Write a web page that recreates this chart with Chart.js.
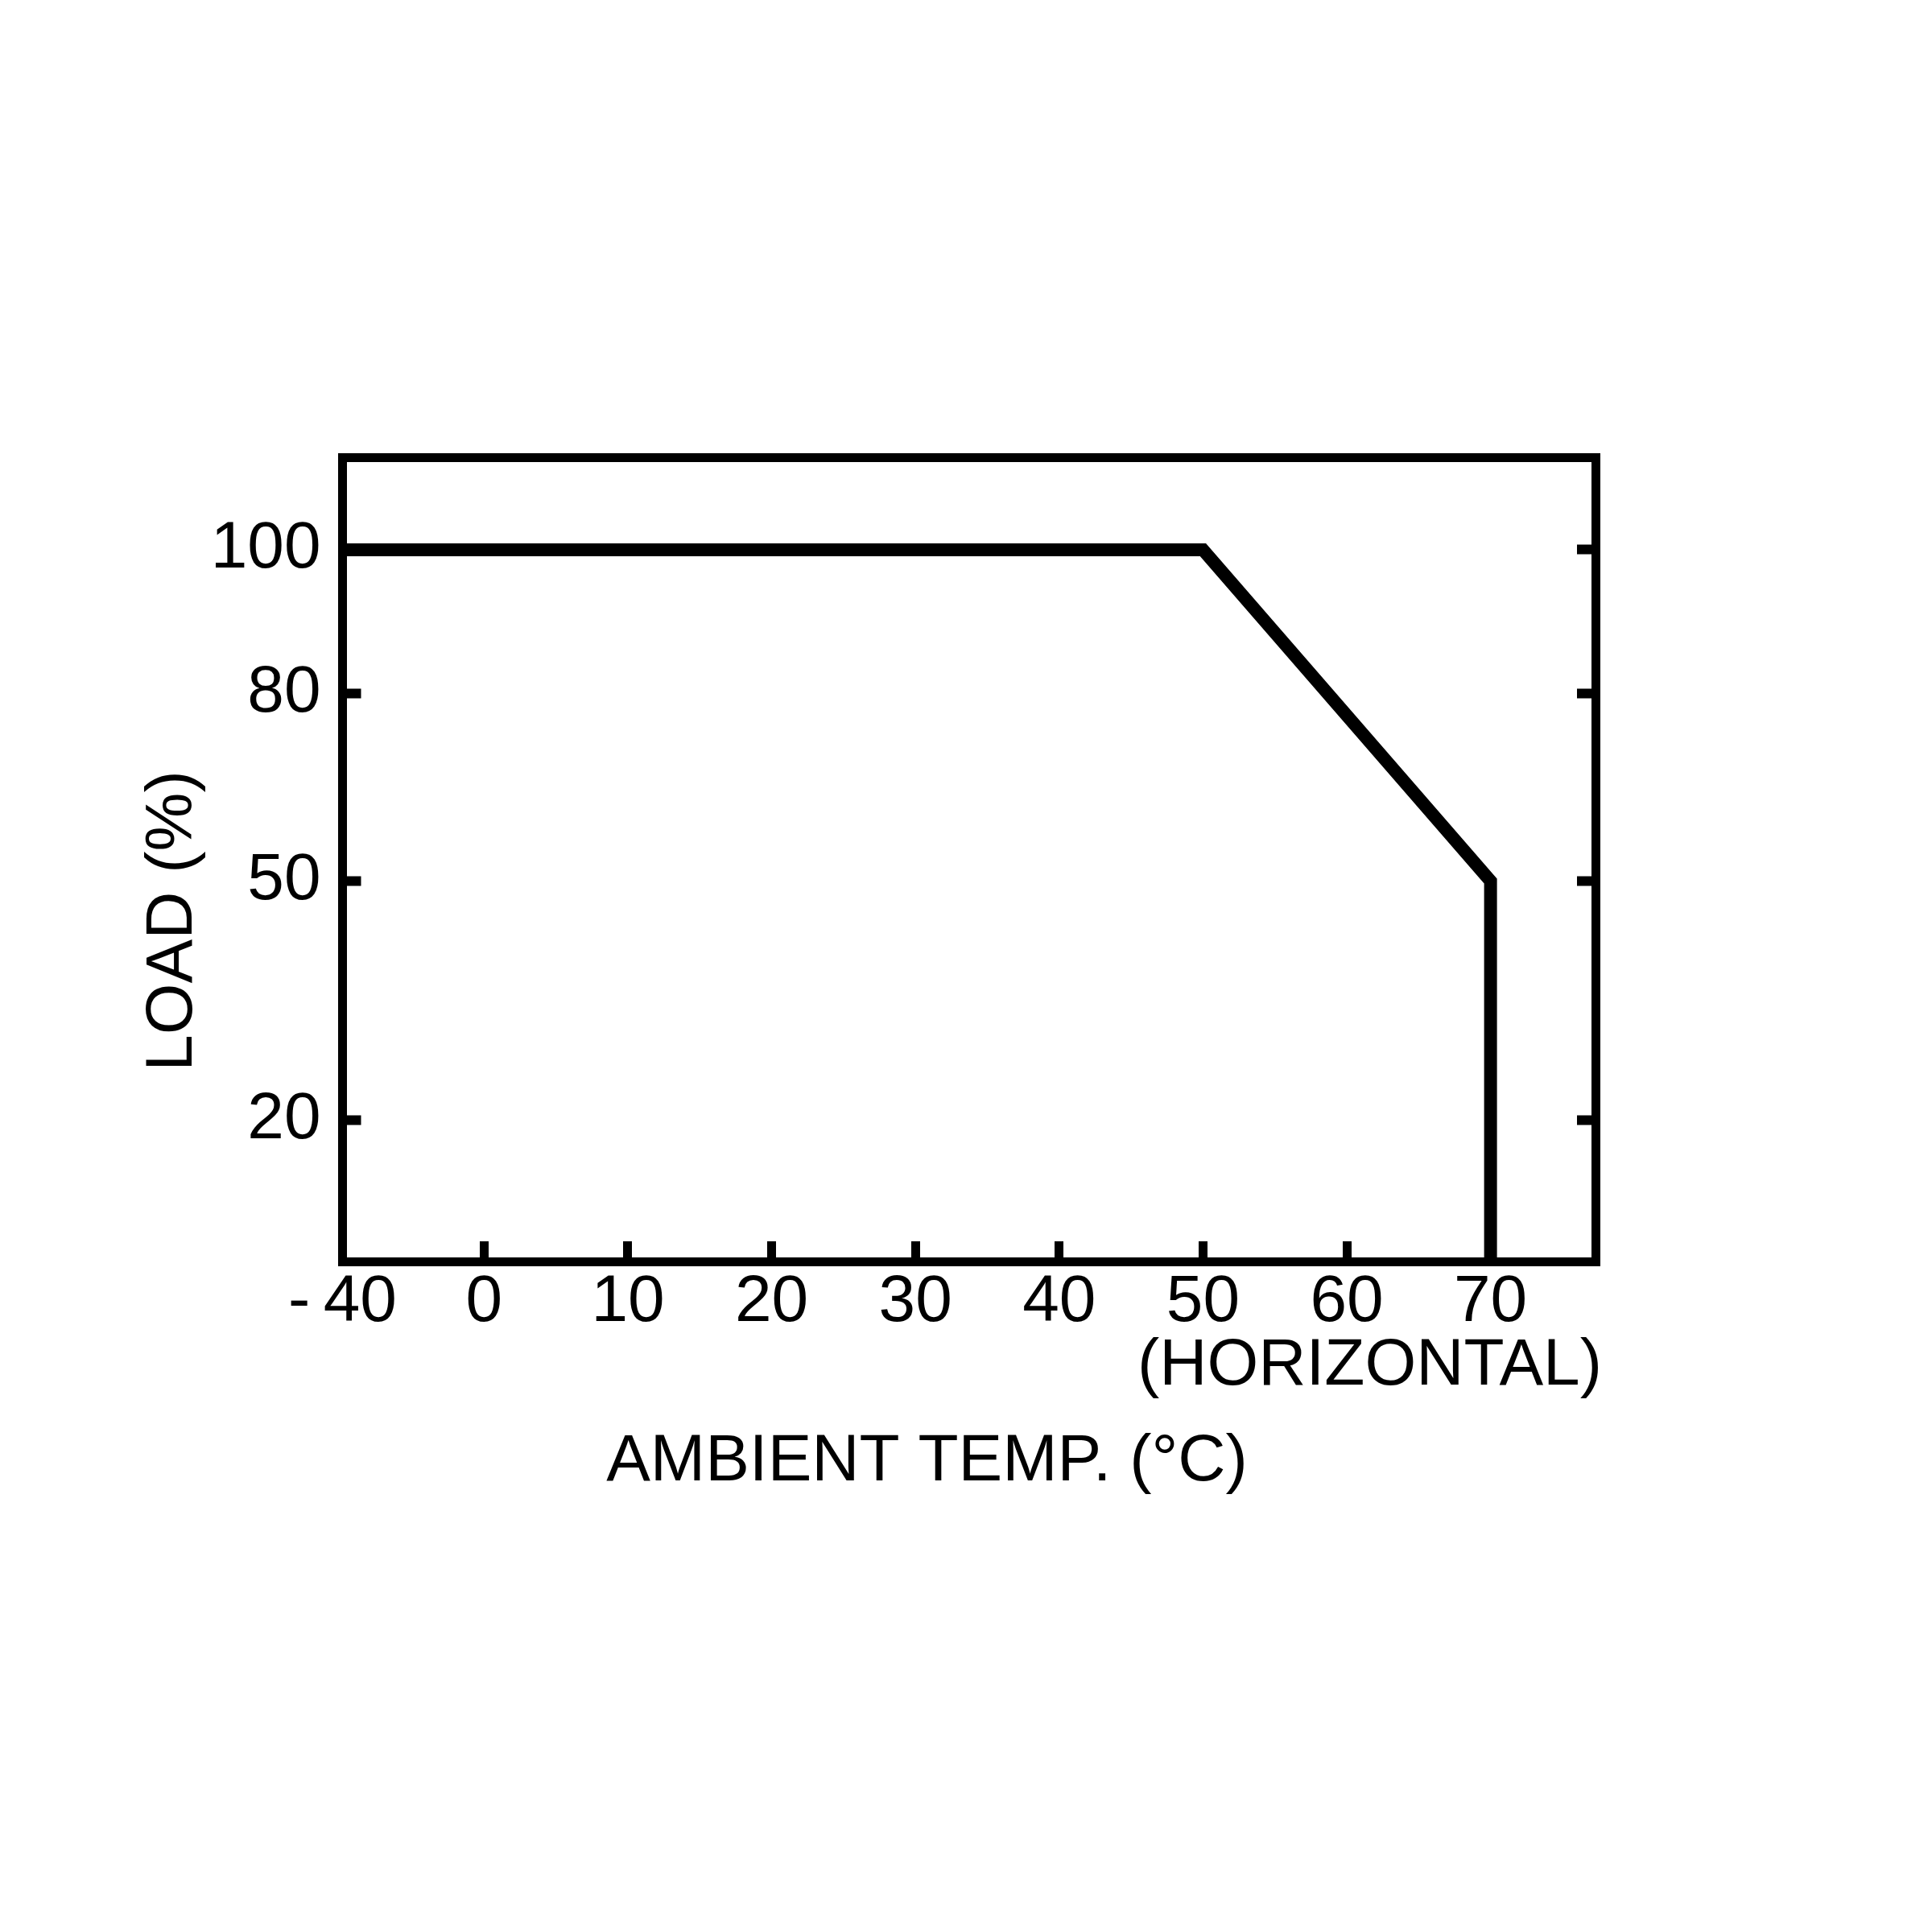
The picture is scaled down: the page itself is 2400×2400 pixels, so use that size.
<!DOCTYPE html>
<html lang="en">
  <head>
    <meta charset="UTF-8" />
    <script src="https://cdn.jsdelivr.net/npm/chart.js@4.4.1/dist/chart.umd.min.js"></script>
    <title>Derating curve</title>
    <style>
      body { margin: 0; background: #fff; }
    </style>
  </head>
  <body>
    <canvas id="myChart" width="2400" height="2400"></canvas>

    <script>
      var temp = [-40, 50, 70, 70];
      var load = [100, 100, 50, 0];
      var xTicks = [-40, 0, 10, 20, 30, 40, 50, 60, 70];
      var yTicks = [100, 80, 50, 20];
      var xTitle = 'AMBIENT TEMP. (°C)';
      var xNote = '(HORIZONTAL)';
      var yTitle = 'LOAD (%)';

      // the printed axes are not linear, so map value -> share of axis length piece by piece
      class BrokenScale extends Chart.LinearScale {
        static id = 'broken';
        getPixelForValue(value) {
          var b = this.options.breaks;
          var i = 1;
          while (i < b.length - 1 && value > b[i][0]) i++;
          var f = b[i - 1][1] + (value - b[i - 1][0]) / (b[i][0] - b[i - 1][0]) * (b[i][1] - b[i - 1][1]);
          return this.getPixelForDecimal(f);
        }
      }
      Chart.register(BrokenScale);

      var xBreaks = [[-40, 0], [0, 0.113], [77.3, 1]];
      var yBreaks = [[0, 0], [20, 0.176], [50, 0.473], [80, 0.706], [100, 0.885], [113, 1]];

      var font = { family: '"Liberation Sans", Arial, sans-serif', size: 82 };

      function frame(extra) {
        return Object.assign({
          grid: { drawOnChartArea: false, drawTicks: true, lineWidth: 11, tickWidth: 11, tickColor: '#000' },
          border: { display: true, color: '#000', width: 11 }
        }, extra);
      }

      var notes = {
        id: 'notes',
        afterDraw(chart) {
          var ctx = chart.ctx;
          var a = chart.chartArea;
          ctx.save();
          ctx.fillStyle = '#000';
          ctx.font = '82px "Liberation Sans", Arial, sans-serif';
          ctx.textBaseline = 'middle';
          ctx.textAlign = 'right';
          ctx.fillText(xNote, a.right + 8, a.bottom + 130);
          ctx.textAlign = 'center';
          ctx.fillText(xTitle, a.left + 726, a.bottom + 249);
          ctx.translate(a.left - 210, a.top + 576);
          ctx.rotate(-Math.PI / 2);
          ctx.fillText(yTitle, 0, 0);
          ctx.restore();
        }
      };

      var ctx = document.getElementById('myChart').getContext('2d');
      var myChart = new Chart(ctx, {
        type: 'line',
        data: {
          datasets: [
            {
              data: temp.map(function (t, i) { return { x: t, y: load[i] }; }),
              borderColor: '#000',
              borderWidth: 16,
              borderJoinStyle: 'miter',
              borderCapStyle: 'butt',
              pointRadius: 0,
              fill: false,
              tension: 0
            }
          ]
        },
        options: {
          responsive: false,
          animation: false,
          devicePixelRatio: 1,
          events: [],
          layout: { padding: { left: 0, top: 548, right: 398, bottom: 683 } },
          plugins: { legend: { display: false }, tooltip: { enabled: false } },
          scales: {
            x: frame({
              type: 'broken', position: 'bottom', min: -40, max: 77.3, breaks: xBreaks,
              afterBuildTicks: function (s) { s.ticks = xTicks.map(function (v) { return { value: v }; }); },
              afterFit: function (s) { s.height = 150; },
              ticks: {
                autoSkip: false, maxRotation: 0, color: '#000', font: font, padding: 27,
                callback: function (v) { return v < 0 ? '-\u2009' + Math.abs(v) : String(v); }
              },
              grid: { drawOnChartArea: false, drawTicks: true, lineWidth: 11, tickWidth: 11, tickColor: '#000', tickLength: -25 }
            }),
            xTop: frame({
              type: 'linear', position: 'top', min: 0, max: 1,
              afterFit: function (s) { s.height = 20; },
              ticks: { display: false },
              grid: { drawOnChartArea: false, drawTicks: false, lineWidth: 11 }
            }),
            y: frame({
              type: 'broken', position: 'left', min: 0, max: 113, breaks: yBreaks,
              afterBuildTicks: function (s) { s.ticks = yTicks.map(function (v) { return { value: v }; }); },
              afterFit: function (s) { s.width = 425.5; },
              ticks: { color: '#000', font: font, padding: 50 },
              grid: { drawOnChartArea: false, drawTicks: true, lineWidth: 11, tickWidth: 12, tickColor: '#000', tickLength: -23 }
            }),
            yRight: frame({
              type: 'broken', position: 'right', min: 0, max: 113, breaks: yBreaks,
              afterBuildTicks: function (s) { s.ticks = yTicks.map(function (v) { return { value: v }; }); },
              afterFit: function (s) { s.width = 20; },
              ticks: { display: false },
              grid: { drawOnChartArea: false, drawTicks: true, lineWidth: 11, tickWidth: 12, tickColor: '#000', tickLength: -23 }
            })
          }
        },
        plugins: [notes]
      });
    </script>
  </body>
</html>
